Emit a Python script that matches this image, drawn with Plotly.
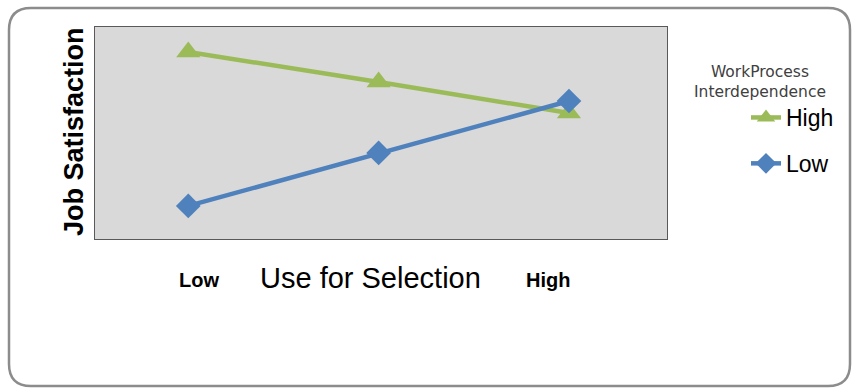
import plotly.graph_objects as go

# ---- data ----
x_levels = [0, 1, 2]                      # Low, Mean, High use for selection
series_names = ["High", "Low"]            # WorkProcess Interdependence
high_values = [8.82, 7.41, 5.94]
low_values = [1.56, 4.06, 6.51]
x_tick_labels = ["Low", "High"]
x_title = "Use for Selection"
y_title = "Job Satisfaction"
legend_title = "WorkProcess<br>Interdependence"

colors = {"High": "#9BBB59", "Low": "#4F81BD"}
symbols = {"High": "triangle-up", "Low": "diamond"}
sizes = {"High": 21, "Low": 19}

W, H = 855, 388
ML, MR, MT, MB = 95, 188, 27, 149
PW, PH = W - ML - MR, H - MT - MB


def px(x):
    return (x - ML) / PW


def py(y):
    return (H - MB - y) / PH


fig = go.Figure()
for name, vals in zip(series_names, [high_values, low_values]):
    fig.add_trace(go.Scatter(
        x=x_levels, y=vals, name=name, mode="lines+markers",
        legendgroup=name,
        line=dict(color=colors[name], width=4.5),
        marker=dict(symbol=symbols[name], size=sizes[name], color=colors[name],
                    line=dict(width=0)),
    ))

annotations = [
    dict(text=y_title, x=px(74), y=py(132), xref="paper", yref="paper",
         textangle=-90, showarrow=False, xanchor="center", yanchor="middle",
         font=dict(family="Liberation Sans", size=27, color="#000000", weight="bold")),
    dict(text=x_title, x=px(370), y=py(278), xref="paper", yref="paper",
         showarrow=False, xanchor="center", yanchor="middle",
         font=dict(family="Liberation Sans", size=29, color="#000000")),
    dict(text=x_tick_labels[0], x=px(199), y=py(280), xref="paper", yref="paper",
         showarrow=False, xanchor="center", yanchor="middle",
         font=dict(family="Liberation Sans", size=20, color="#000000", weight="bold")),
    dict(text=x_tick_labels[1], x=px(548), y=py(280), xref="paper", yref="paper",
         showarrow=False, xanchor="center", yanchor="middle",
         font=dict(family="Liberation Sans", size=20, color="#000000", weight="bold")),
    dict(text=legend_title, x=px(760), y=py(82), xref="paper", yref="paper",
         showarrow=False, xanchor="center", yanchor="middle",
         font=dict(family="DejaVu Sans", size=15.5, color="#404040")),
]

# rounded outer frame
L, R, T, B, r = 9, 850, 8, 386, 22
path = (f"M {px(L + r)},{py(T)} L {px(R - r)},{py(T)} "
        f"Q {px(R)},{py(T)} {px(R)},{py(T + r)} "
        f"L {px(R)},{py(B - r)} Q {px(R)},{py(B)} {px(R - r)},{py(B)} "
        f"L {px(L + r)},{py(B)} Q {px(L)},{py(B)} {px(L)},{py(B - r)} "
        f"L {px(L)},{py(T + r)} Q {px(L)},{py(T)} {px(L + r)},{py(T)} Z")

fig.update_layout(
    width=W, height=H,
    margin=dict(l=ML, r=MR, t=MT, b=MB, pad=0),
    paper_bgcolor="#FFFFFF",
    plot_bgcolor="#D9D9D9",
    xaxis=dict(range=[-0.49, 2.515], showgrid=False, zeroline=False,
               showticklabels=False, ticks="", showline=True, mirror=True,
               linecolor="#595959", linewidth=1),
    yaxis=dict(range=[0, 10], showgrid=False, zeroline=False,
               showticklabels=False, ticks="", showline=True, mirror=True,
               linecolor="#595959", linewidth=1),
    showlegend=True,
    legend=dict(x=px(746), y=py(96), xanchor="left", yanchor="top",
                bgcolor="rgba(0,0,0,0)", tracegroupgap=13,
                font=dict(family="Liberation Sans", size=23, color="#000000")),
    annotations=annotations,
    shapes=[dict(type="path", path=path, xref="paper", yref="paper",
                 line=dict(color="#8C8C8C", width=2.5), layer="below")],
)

fig.write_html("out.html")
